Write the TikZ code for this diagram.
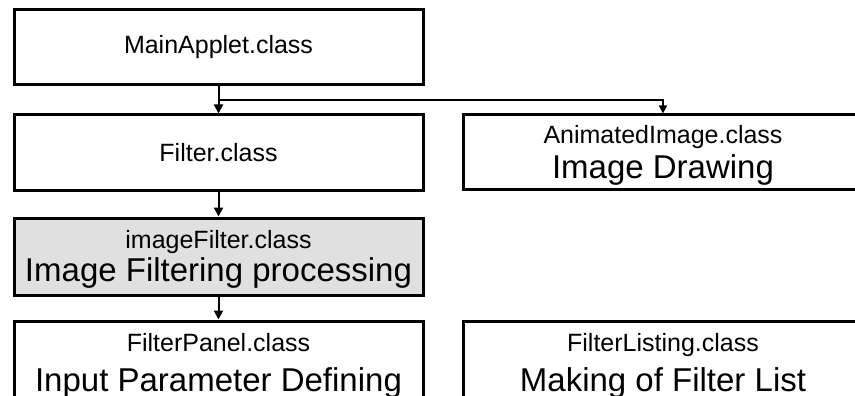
\documentclass[tikz,border=0pt]{standalone}
\usepackage{fontspec}
\setmainfont{Liberation Sans}
\usetikzlibrary{arrows.meta}
\definecolor{boxgray}{RGB}{224,224,224}
\newcommand\smtxt{\fontsize{25}{33}\selectfont}
\newcommand\bgtxt{\fontsize{33}{33}\selectfont}
\newcommand\bgtxtw{\fontsize{33}{40}\selectfont}
\newcommand\tallstrut{\rule{0pt}{24pt}}
\begin{document}
\begin{tikzpicture}[x=1pt,y=-1pt,
  classbox/.style={draw=black, line width=3pt, rectangle, inner sep=0pt, align=center, font=\smtxt},
  leftbox/.style={classbox, minimum width=409pt},
  rightbox/.style={classbox, minimum width=400pt},
  mainarrow/.style={draw=black, line width=2pt, -{Triangle[width=9pt,length=9pt]}},
  brancharrow/.style={draw=black, line width=1.6pt, -{Triangle[width=8pt,length=8pt]}}]
\useasboundingbox (0,0) rectangle (855,396);
\clip (0,0) rectangle (855,396);
\fill[white] (0,0) rectangle (855,396);
\node[leftbox, minimum height=75pt] (main) at (218.5,47.5) {MainApplet.class};
\node[leftbox, minimum height=75pt] (filter) at (218.5,152.5) {Filter.class};
\node[leftbox, minimum height=77pt, fill=boxgray] (imgf) at (218.5,256.5) {\tallstrut imageFilter.class\\\bgtxt Image Filtering processing};
\node[leftbox, minimum height=89pt, font={\fontsize{25}{40}\selectfont}] (panel) at (218.5,365.5) {FilterPanel.class\\\bgtxtw Input Parameter Defining};
\node[rightbox, minimum height=74pt, font={\fontsize{25}{35}\selectfont}] (anim) at (663,152) {\tallstrut AnimatedImage.class\\\fontsize{33}{35}\selectfont Image Drawing};
\node[rightbox, minimum height=89pt, font={\fontsize{25}{40}\selectfont}] (listing) at (663,365.5) {FilterListing.class\\\bgtxtw Making of Filter List};
\coordinate (branch) at (218.5,100);
\draw[mainarrow] (main) -- (filter);
\draw[brancharrow] (branch) -| (anim.north);
\draw[mainarrow] (filter) -- (imgf);
\draw[mainarrow] (imgf) -- (panel);
\end{tikzpicture}
\end{document}
